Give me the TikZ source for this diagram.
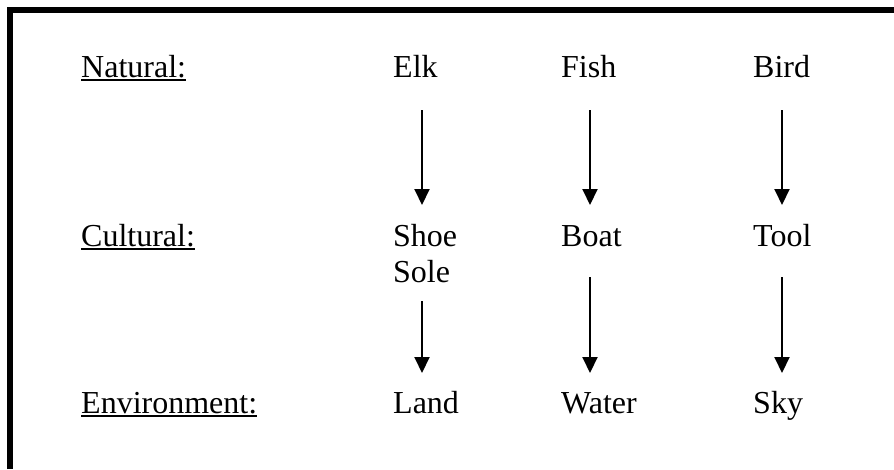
\documentclass[tikz,border=0pt]{standalone}
\usepackage{fontspec}
\setmainfont{Liberation Serif}
\usetikzlibrary{arrows.meta}
\tikzset{
  lbl/.style={anchor=base west, inner sep=0pt, font=\fontsize{32}{37}\selectfont},
  arr/.style={line width=2pt, -{Triangle[width=15pt,length=16pt]}},
  uline/.style={line width=2pt},
  frame/.style={line width=6pt, line join=miter}
}
\begin{document}
\begin{tikzpicture}[x=1pt,y=-1pt]
\useasboundingbox (0,0) rectangle (894,469);
\fill[white] (0,0) rectangle (894,469);
\draw[frame] (10,469) -- (10,10) -- (894,10);
% row labels
\node[lbl] (nat) at (81,77) {Natural:};
\node[lbl] (cul) at (81,246) {Cultural:};
\node[lbl] (env) at (81,413) {Environment:};
\foreach \n in {nat,cul,env}
  \draw[uline] ([yshift=-3pt]\n.base west) -- ([yshift=-3pt]\n.base east);
% entries
\node[lbl] (elk) at (393,77) {Elk};
\node[lbl] (fish) at (561,77) {Fish};
\node[lbl] (bird) at (753,77) {Bird};
\node[lbl] (shoe) at (393,246) {Shoe};
\node[lbl] (sole) at (393,282) {Sole};
\node[lbl] (boat) at (561,246) {Boat};
\node[lbl] (tool) at (753,246) {Tool};
\node[lbl] (land) at (393,413) {Land};
\node[lbl] (water) at (561,413) {Water};
\node[lbl] (sky) at (753,413) {Sky};
% arrows
\draw[arr] ([shift={(29,33)}]elk.base west) -- ([shift={(29,-41)}]shoe.base west);
\draw[arr] ([shift={(29,33)}]fish.base west) -- ([shift={(29,-41)}]boat.base west);
\draw[arr] ([shift={(29,33)}]bird.base west) -- ([shift={(29,-41)}]tool.base west);
\draw[arr] ([shift={(29,19)}]sole.base west) -- ([shift={(29,-40)}]land.base west);
\draw[arr] ([shift={(29,31)}]boat.base west) -- ([shift={(29,-40)}]water.base west);
\draw[arr] ([shift={(29,31)}]tool.base west) -- ([shift={(29,-40)}]sky.base west);
\end{tikzpicture}
\end{document}
